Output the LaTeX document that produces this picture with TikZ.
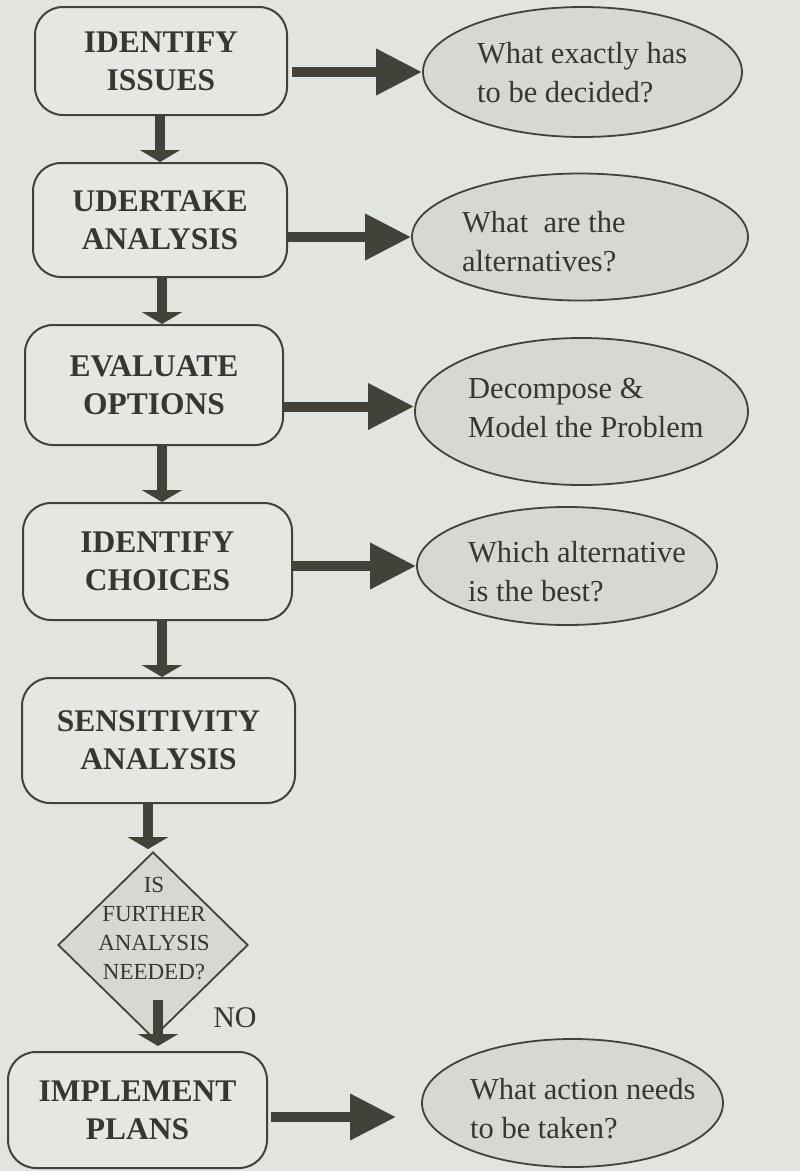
\documentclass[tikz,border=0pt]{standalone}
\usepackage{fontspec}
\setmainfont{Liberation Serif}
\usetikzlibrary{shapes.geometric,arrows.meta}
\definecolor{bg}{RGB}{226,228,223}
\definecolor{boxfill}{RGB}{229,231,226}
\definecolor{ellfill}{RGB}{214,216,211}
\definecolor{ink}{RGB}{66,66,56}
\definecolor{txt}{RGB}{55,55,46}
\tikzset{
  stepbox/.style={draw=ink, line width=2pt, fill=boxfill, rounded corners=28pt,
    text=txt, align=center, inner sep=0pt,
    font=\fontsize{31.5}{38}\selectfont\bfseries},
  ques/.style={draw=ink, line width=1.8pt, fill=ellfill, ellipse, inner sep=0pt},
  questext/.style={anchor=west, inner sep=0pt, align=left, text=txt,
    font=\fontsize{30.5}{39}\selectfont},
  rarr/.style={draw=ink, line width=10pt, -{Triangle[length=46pt,width=44pt]}},
  darr/.style={draw=ink, line width=10pt, -{Triangle[length=12pt,width=40pt]}},
}
\begin{document}
\begin{tikzpicture}[x=1pt,y=-1pt]
\useasboundingbox (0,0) rectangle (800,1171);
\fill[bg] (0,0) rectangle (800,1171);

% process boxes
\node[stepbox, minimum width=252pt, minimum height=108pt] (b1) at (161,61) {IDENTIFY\\ISSUES};
\node[stepbox, minimum width=254pt, minimum height=114pt] (b2) at (160,220) {UDERTAKE\\ANALYSIS};
\node[stepbox, minimum width=258pt, minimum height=120pt] (b3) at (154,385) {EVALUATE\\OPTIONS};
\node[stepbox, minimum width=269pt, minimum height=117pt] (b4) at (157.5,561.5) {IDENTIFY\\CHOICES};
\node[stepbox, minimum width=273pt, minimum height=125pt] (b5) at (158.5,740.5) {SENSITIVITY\\ANALYSIS};
\node[stepbox, minimum width=259pt, minimum height=116pt] (b6) at (137.5,1110) {IMPLEMENT\\PLANS};

% decision
\node[draw=ink, line width=1.8pt, fill=ellfill, diamond, minimum width=190pt, minimum height=186pt, inner sep=0pt] (dia) at (153,945) {};
\node[align=center, inner sep=0pt, text=txt, font=\fontsize{23}{29}\selectfont] (diatext) at (154,929) {IS\\FURTHER\\ANALYSIS\\NEEDED?};
\node[inner sep=0pt, text=txt, font=\fontsize{30}{36}\selectfont] (no) at (235,1018) {NO};

% question ellipses
\node[ques, minimum width=319pt, minimum height=130pt] (e1) at (582.5,72) {};
\node[ques, minimum width=336pt, minimum height=127pt] (e2) at (580,237) {};
\node[ques, minimum width=333pt, minimum height=147pt] (e3) at (581.5,411.5) {};
\node[ques, minimum width=300pt, minimum height=118pt] (e4) at (567,566) {};
\node[ques, minimum width=301pt, minimum height=128pt] (e6) at (572.5,1103) {};

\node[questext] (t1) at (477,73) {What exactly has\\to be decided?};
\node[questext] (t2) at (462,242) {What\ \ are the\\alternatives?};
\node[questext] (t3) at (468,408) {Decompose \&\\Model the Problem};
\node[questext] (t4) at (468,572) {Which alternative\\is the best?};
\node[questext] (t6) at (470,1109) {What action needs\\to be taken?};

% columns for the vertical arrows
\coordinate (c1) at (160,0);
\coordinate (c2) at (162,0);
\coordinate (c5) at (148,0);
\coordinate (c6) at (158,0);

% vertical arrows
\draw[darr] (b1.south -| c1) -- (b2.north -| c1);
\draw[darr] (b2.south -| c2) -- (b3.north -| c2);
\draw[darr] (b3.south -| c2) -- (b4.north -| c2);
\draw[darr] (b4.south -| c2) -- (b5.north -| c2);
\draw[darr] (b5.south -| c5) -- ([yshift=2pt]dia.north -| c5);
\draw[darr] ([yshift=-55pt]dia.center -| c6) -- ([yshift=5pt]b6.north -| c6);

% horizontal arrows
\draw[rarr, shorten <=4pt] (b1.east |- e1.west) -- (e1.west);
\draw[rarr] (b2.east |- e2.west) -- (e2.west);
\draw[rarr] ([yshift=5pt]b3.east |- e3.west) -- ([yshift=5pt]e3.west);
\draw[rarr] (b4.east |- e4.west) -- (e4.west);
\draw[rarr, shorten <=3pt] ([yshift=-7pt]b6.east) -- ([xshift=-25pt,yshift=-14pt]e6.west);
\end{tikzpicture}
\end{document}
